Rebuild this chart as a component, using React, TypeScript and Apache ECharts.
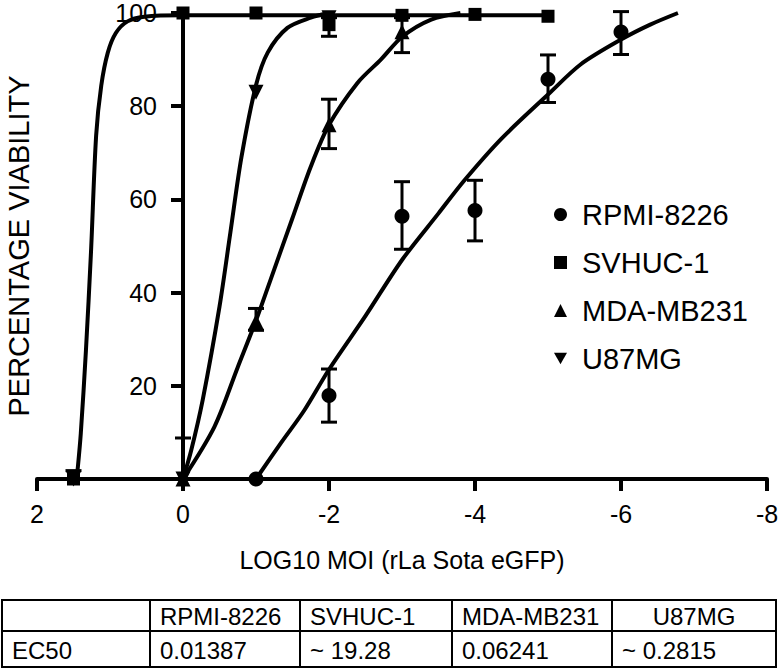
import React, { useEffect, useRef } from 'react';
import * as echarts from 'echarts';

// ---- data ----
const seriesNames = ['RPMI-8226', 'SVHUC-1', 'MDA-MB231', 'U87MG'];

// measured points
const rpmiX = [-1, -2, -3, -4, -5, -6];
const rpmiY = [0, 17.9, 56.4, 57.6, 85.8, 95.9];
const svhucX = [1.5, 0, -1, -2, -3, -4, -5];
const svhucY = [0, 100, 100, 97.5, 99.5, 99.7, 99.3];
const mdaX = [0, -1, -2, -3];
const mdaY = [0, 33.8, 76, 96];
const u87X = [1.5, 0, -1, -2];
const u87Y = [0, 0, 83, 99];

// error bars
const rpmiErrX = [-2, -3, -4, -5, -6];
const rpmiErrLow = [12.2, 49.3, 51.1, 80.8, 91.1];
const rpmiErrHigh = [23.6, 63.8, 64.1, 91.0, 100.3];
const svhucErrX = [1.5, -2];
const svhucErrLow = [0, 95];
const svhucErrHigh = [1.8, 99];
const mdaErrX = [0, -1, -2, -3];
const mdaErrLow = [0, 31.9, 70.9, 91.5];
const mdaErrHigh = [8.8, 36.6, 81.5, 99];

// fitted curves
const rpmiCurveX = [-1, -1.34, -1.66, -2, -2.5, -3, -3.5, -3.85, -4.36, -5, -5.45, -6, -6.4, -6.78];
const rpmiCurveY = [0, 7.7, 14.7, 23.5, 35, 47, 57, 64, 73, 82.5, 89, 94.3, 97.5, 100];
const svhucCurveX = [1.46, 1.44, 1.4, 1.33, 1.26, 1.19, 1.12, 1.03, 0.92, 0.76, 0.53, 0, -1, -2, -3, -4, -5];
const svhucCurveY = [0, 2.6, 9.8, 27.5, 48.8, 73.7, 84.4, 91.5, 95.7, 98.2, 99.2, 99.5, 99.5, 99.5, 99.5, 99.5, 99.5];
const mdaCurveX = [0, -0.43, -0.75, -1, -1.25, -1.5, -1.75, -2, -2.39, -2.71, -3.01, -3.4, -3.8];
const mdaCurveY = [0, 11.2, 24, 34, 45, 56, 67, 76, 85, 90, 95, 98.6, 100];
const u87CurveX = [0, -0.11, -0.27, -0.5, -0.65, -0.8, -1, -1.16, -1.43, -1.75, -2];
const u87CurveY = [0, 6, 17, 37, 53, 69, 84.5, 91.5, 96.8, 99, 100];

// axes
const xTickValues = [2, 0, -2, -4, -6, -8];
const yTickValues = [0, 20, 40, 60, 80, 100];
const xAxisTitle = 'LOG10 MOI (rLa Sota eGFP)';
const yAxisTitle = 'PERCENTAGE VIABILITY';

// table
const tableHeader = ['', 'RPMI-8226', 'SVHUC-1', 'MDA-MB231', 'U87MG'];
const tableRow = ['EC50', '0.01387', '~ 19.28', '0.06241', '~ 0.2815'];

const FONT = '"Liberation Sans", Arial, Helvetica, sans-serif';
const BLACK = '#000000';
const downTri = 'path://M0,0L20,0L10,18Z';

const zip = (xs: number[], ys: number[]) => xs.map((x, i) => [x, ys[i]]);
const zip3 = (xs: number[], a: number[], b: number[]) => xs.map((x, i) => [x, a[i], b[i]]);

export default function App() {
  const ref = useRef<HTMLDivElement>(null);

  useEffect(() => {
    if (!ref.current) return;
    const chart = echarts.init(ref.current, undefined, { renderer: 'svg' });

    const curve = (name: string, xs: number[], ys: number[]) => ({
      name,
      type: 'line',
      data: zip(xs, ys),
      symbol: 'none',
      smooth: 0.3,
      clip: false,
      lineStyle: { color: BLACK, width: 4 },
      z: 3,
      silent: true,
    });
    const marks = (name: string, xs: number[], ys: number[], symbol: string) => ({
      name,
      type: 'scatter',
      data: zip(xs, ys),
      symbol,
      symbolSize: symbol === 'rect' ? 13 : 15,
      itemStyle: { color: BLACK, opacity: 1 },
      clip: false,
      z: 4,
    });
    const errBars = (name: string, xs: number[], lo: number[], hi: number[]) => ({
      name,
      type: 'custom',
      data: zip3(xs, lo, hi),
      encode: { x: 0, y: [1, 2] },
      clip: false,
      z: 4,
      silent: true,
      renderItem: (_p: any, api: any) => {
        const x = api.value(0);
        const a = api.coord([x, api.value(1)]);
        const b = api.coord([x, api.value(2)]);
        const hw = 8;
        const st = { stroke: BLACK, lineWidth: 3 };
        return {
          type: 'group',
          children: [
            { type: 'line', shape: { x1: a[0], y1: a[1], x2: b[0], y2: b[1] }, style: st },
            { type: 'line', shape: { x1: b[0] - hw, y1: b[1], x2: b[0] + hw, y2: b[1] }, style: st },
            { type: 'line', shape: { x1: a[0] - hw, y1: a[1], x2: a[0] + hw, y2: a[1] }, style: st },
          ],
        };
      },
    });

    // table graphic
    const colX = [2, 150, 300, 452, 612, 776];
    const rowY = [600, 631, 667];
    const tableEls: any[] = [];
    tableEls.push({
      type: 'rect',
      shape: { x: colX[0], y: rowY[0], width: colX[5] - colX[0], height: rowY[2] - rowY[0] },
      style: { fill: 'none', stroke: BLACK, lineWidth: 2 },
    });
    tableEls.push({
      type: 'line',
      shape: { x1: colX[0], y1: rowY[1], x2: colX[5], y2: rowY[1] },
      style: { stroke: BLACK, lineWidth: 2 },
    });
    for (let i = 1; i < 5; i++) {
      tableEls.push({
        type: 'line',
        shape: { x1: colX[i], y1: rowY[0], x2: colX[i], y2: rowY[2] },
        style: { stroke: BLACK, lineWidth: 2 },
      });
    }
    const rows = [tableHeader, tableRow];
    rows.forEach((row, r) => {
      row.forEach((txt, c) => {
        if (!txt) return;
        const centered = r === 0 && c === 4;
        tableEls.push({
          type: 'text',
          x: centered ? (colX[c] + colX[c + 1]) / 2 : colX[c] + 10,
          y: (rowY[r] + rowY[r + 1]) / 2 + 1,
          style: {
            text: txt,
            font: `24px ${FONT}`,
            fill: BLACK,
            verticalAlign: 'middle',
            align: centered ? 'center' : 'left',
          },
        });
      });
    });

    chart.setOption({
      animation: false,
      backgroundColor: '#ffffff',
      grid: { left: 37, right: 11, top: 13, bottom: 192, outerBoundsMode: 'none', containLabel: false },
      legend: {
        orient: 'vertical',
        left: 549,
        top: 195,
        itemWidth: 13,
        itemHeight: 13,
        itemGap: 19,
        selectedMode: false,
        data: [
          { name: seriesNames[0], icon: 'circle' },
          { name: seriesNames[1], icon: 'rect' },
          { name: seriesNames[2], icon: 'triangle' },
          { name: seriesNames[3], icon: downTri },
        ],
        itemStyle: { color: BLACK, opacity: 1 },
        textStyle: { fontSize: 29, fontFamily: FONT, color: BLACK, padding: [0, 0, 0, 10] },
      },
      xAxis: {
        type: 'value',
        min: -8,
        max: 2,
        interval: 2,
        inverse: true,
        name: xAxisTitle,
        nameLocation: 'middle',
        nameGap: 68,
        nameTextStyle: { fontSize: 25, fontFamily: FONT, color: BLACK },
        axisLine: { onZero: true, lineStyle: { color: BLACK, width: 4 } },
        axisTick: { show: true, length: 12, lineStyle: { color: BLACK, width: 4 } },
        axisLabel: {
          fontSize: 25,
          fontFamily: FONT,
          color: BLACK,
          margin: 22,
          formatter: (v: number) => (xTickValues.includes(v) ? String(v) : ''),
        },
        splitLine: { show: false },
      },
      yAxis: {
        type: 'value',
        min: 0,
        max: 100,
        interval: 20,
        offset: -146,
        name: yAxisTitle,
        nameLocation: 'middle',
        nameGap: 150,
        nameRotate: 90,
        nameTextStyle: { fontSize: 29, fontFamily: FONT, color: BLACK },
        axisLine: { show: true, onZero: false, lineStyle: { color: BLACK, width: 4 } },
        axisTick: { show: true, length: 12, lineStyle: { color: BLACK, width: 4 } },
        axisLabel: {
          fontSize: 25,
          fontFamily: FONT,
          color: BLACK,
          margin: 26,
          formatter: (v: number) => (v === 0 || !yTickValues.includes(v) ? '' : String(v)),
        },
        splitLine: { show: false },
      },
      graphic: tableEls,
      series: [
        curve('c-rpmi', rpmiCurveX, rpmiCurveY),
        curve('c-svhuc', svhucCurveX, svhucCurveY),
        curve('c-mda', mdaCurveX, mdaCurveY),
        curve('c-u87', u87CurveX, u87CurveY),
        errBars('e-rpmi', rpmiErrX, rpmiErrLow, rpmiErrHigh),
        errBars('e-svhuc', svhucErrX, svhucErrLow, svhucErrHigh),
        errBars('e-mda', mdaErrX, mdaErrLow, mdaErrHigh),
        marks(seriesNames[0], rpmiX, rpmiY, 'circle'),
        marks(seriesNames[1], svhucX, svhucY, 'rect'),
        marks(seriesNames[2], mdaX, mdaY, 'triangle'),
        marks(seriesNames[3], u87X, u87Y, downTri),
      ],
    });

    return () => chart.dispose();
  }, []);

  return (
    <div
      ref={ref}
      style={{ position: 'fixed', left: 0, top: 0, width: 778, height: 671, background: '#fff' }}
    />
  );
}
